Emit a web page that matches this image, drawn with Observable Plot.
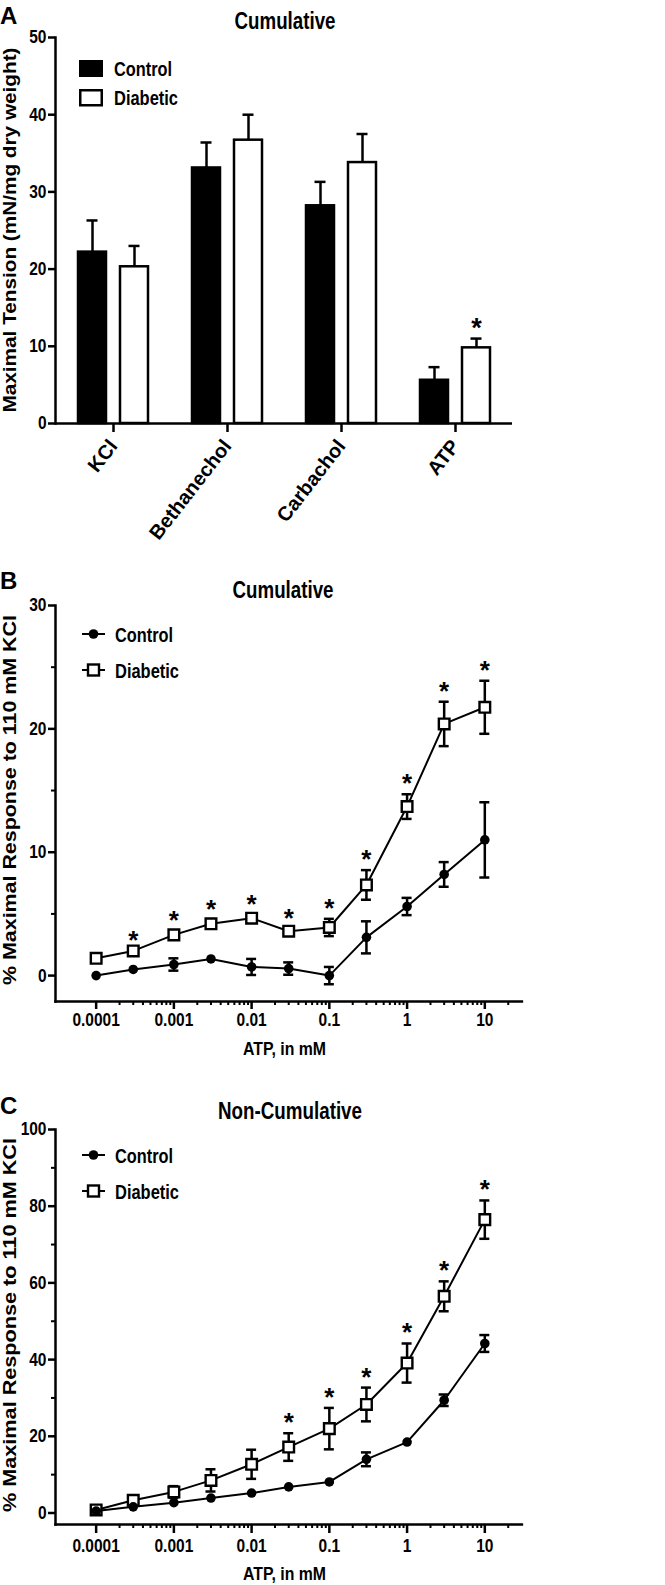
<!DOCTYPE html>
<html>
<head>
<meta charset="utf-8">
<script src="https://cdn.jsdelivr.net/npm/d3@7"></script>
<script src="https://cdn.jsdelivr.net/npm/@observablehq/plot@0.6"></script>
<style>
  html, body { margin: 0; padding: 0; background: #fff; }
  #wrap { position: relative; width: 665px; height: 1585px; overflow: hidden; }
  #wrap > svg { position: absolute; left: 0; }
</style>
</head>
<body>
<div id="wrap"></div>
<script>
const FONT = '"Liberation Sans", Arial, Helvetica, sans-serif';

// ---------- Panel A data ----------
const agonists = ["KCl", "Bethanechol", "Carbachol", "ATP"];
const tensionControl = [22.2, 33.1, 28.2, 5.6];
const tensionControlSem = [4.1, 3.3, 3.1, 1.7];
const tensionDiabetic = [20.3, 36.7, 33.8, 9.8];
const tensionDiabeticSem = [2.7, 3.3, 3.7, 1.2];
const tensionSig = [false, false, false, true];
const tensionTicks = [0, 10, 20, 30, 40, 50];

// ---------- Panel B / C shared ----------
const atpConc = [0.0001, 0.0003, 0.001, 0.003, 0.01, 0.03, 0.1, 0.3, 1, 3, 10];
const atpMajorTicks = [0.0001, 0.001, 0.01, 0.1, 1, 10];
const atpTickLabels = ["0.0001", "0.001", "0.01", "0.1", "1", "10"];
const atpMinorTicks = [-4, -3, -2, -1, 0, 1].flatMap(e => [2, 3, 4, 5, 6, 7, 8, 9].map(m => +(m * Math.pow(10, e)).toPrecision(3))).filter(v => v <= 20);

// ---------- Panel B data (cumulative) ----------
const cumControl = [0.0, 0.5, 0.9, 1.35, 0.7, 0.57, 0.0, 3.1, 5.6, 8.2, 11.0];
const cumControlSem = [0, 0, 0.5, 0, 0.65, 0.5, 0.7, 1.3, 0.7, 1.0, 3.05];
const cumDiabetic = [1.4, 2.0, 3.3, 4.2, 4.65, 3.6, 3.9, 7.35, 13.7, 20.4, 21.75];
const cumDiabeticSem = [0, 0, 0.3, 0.3, 0.3, 0.2, 0.7, 1.2, 1.0, 1.8, 2.15];
const cumSig = [false, true, true, true, true, true, true, true, true, true, true];
const cumMajor = [0, 10, 20, 30];
const cumMinor = [5, 15, 25];

// ---------- Panel C data (non-cumulative) ----------
const nonControl = [0.5, 1.6, 2.7, 3.9, 5.2, 6.8, 8.1, 14.0, 18.5, 29.4, 44.2];
const nonControlSem = [0, 0, 0, 0, 0, 0, 0, 1.8, 0, 1.5, 2.2];
const nonDiabetic = [0.8, 3.3, 5.5, 8.5, 12.7, 17.2, 22.0, 28.3, 39.1, 56.5, 76.5];
const nonDiabeticSem = [0, 0, 1.5, 2.9, 3.8, 3.6, 5.4, 4.4, 5.1, 3.9, 5.0];
const nonSig = [false, false, false, false, false, true, true, true, true, true, true];
const nonMajor = [0, 20, 40, 60, 80, 100];
const nonMinor = [10, 30, 50, 70, 90];

const wrap = document.getElementById("wrap");
const TICK_FONT = 15.5;
const baseStyle = { fontFamily: FONT, fontSize: TICK_FONT + "px", fontWeight: "bold", color: "black", background: "white", overflow: "visible" };

// the original figure's lettering is taller than it is wide: keep each tick label's width, grow its height
function stretchTickLabels(svg, selector) {
  d3.select(svg).selectAll(selector).each(function () {
    const w = this.getComputedTextLength();
    this.setAttribute("font-size", TICK_FONT * 1.2);
    this.setAttribute("textLength", w);
    this.setAttribute("lengthAdjust", "spacingAndGlyphs");
  });
}
function place(svg, top, selector = "g[aria-label$='tick label'] text") {
  svg.style.top = top + "px";
  wrap.appendChild(svg);
  stretchTickLabels(svg, selector);
}

// ================= Panel A =================
const rowsA = agonists.map((a, i) => ({
  agonist: a,
  control: tensionControl[i], controlHi: tensionControl[i] + tensionControlSem[i],
  diabetic: tensionDiabetic[i], diabeticHi: tensionDiabetic[i] + tensionDiabeticSem[i],
  sig: tensionSig[i]
}));
const dxC = -21, dxD = 21;
const plotA = Plot.plot({
  width: 665, height: 555,
  marginTop: 37, marginBottom: 132, marginLeft: 55, marginRight: 153,
  style: baseStyle,
  x: { type: "band", domain: agonists, padding: 0 },
  y: { domain: [0, 50] },
  marks: [
    Plot.ruleX(rowsA, { x: "agonist", y1: "control", y2: "controlHi", dx: dxC, strokeWidth: 2.5 }),
    Plot.tickY(rowsA, { x: "agonist", y: "controlHi", dx: dxC, insetLeft: 51.5, insetRight: 51.5, strokeWidth: 2.5 }),
    Plot.ruleX(rowsA, { x: "agonist", y1: "diabetic", y2: "diabeticHi", dx: dxD, strokeWidth: 2.5 }),
    Plot.tickY(rowsA, { x: "agonist", y: "diabeticHi", dx: dxD, insetLeft: 51.5, insetRight: 51.5, strokeWidth: 2.5 }),
    Plot.barY(rowsA, { x: "agonist", y: "control", dx: dxC, insetLeft: 43, insetRight: 43, fill: "black", stroke: "black", strokeWidth: 2.5 }),
    Plot.barY(rowsA, { x: "agonist", y: "diabetic", dx: dxD, insetLeft: 43, insetRight: 43, fill: "white", stroke: "black", strokeWidth: 2.5 }),
    Plot.text(rowsA.filter(d => d.sig), { x: "agonist", y: "diabeticHi", dx: dxD, text: () => "*", fontSize: 27, fontWeight: "bold", lineAnchor: "bottom", dy: -2 }),
    Plot.ruleY([0], { strokeWidth: 2.5 }),
    Plot.frame({ anchor: "left", strokeWidth: 2.5 }),
    Plot.axisY(tensionTicks, { tickSize: 7, tickPadding: 2, strokeWidth: 2.5, label: null }),
    Plot.axisX({ tickSize: 9, tickPadding: 10, tickRotate: -52, strokeWidth: 2.5, fontSize: 20, fontWeight: "bold", label: null })
  ]
});
place(plotA, 0, "g[aria-label='y-axis tick label'] text");

// ================= Panels B & C =================
function curvePanel(opts) {
  const rows = atpConc.map((c, i) => ({ conc: c, y: opts.control[i], lo: opts.control[i] - opts.controlSem[i], hi: opts.control[i] + opts.controlSem[i], sem: opts.controlSem[i], group: "Control" }));
  const rowsD = atpConc.map((c, i) => ({ conc: c, y: opts.diabetic[i], lo: opts.diabetic[i] - opts.diabeticSem[i], hi: opts.diabetic[i] + opts.diabeticSem[i], sem: opts.diabeticSem[i], sig: opts.sig[i], group: "Diabetic" }));
  const errC = rows.filter(d => d.sem > 0), errD = rowsD.filter(d => d.sem > 0);
  const capOpts = { insetLeft: -5, insetRight: -5, strokeWidth: 2.5 };
  return Plot.plot({
    width: 665, height: opts.height,
    marginTop: opts.marginTop, marginBottom: opts.marginBottom, marginLeft: 55, marginRight: 143.6,
    style: baseStyle,
    x: { type: "log", domain: [0.00003, 30] },
    y: { domain: opts.yDomain },
    marks: [
      Plot.line(rowsD, { x: "conc", y: "y", strokeWidth: 2 }),
      Plot.ruleX(errD, { x: "conc", y1: "lo", y2: "hi", strokeWidth: 2.5 }),
      Plot.ruleY(errD, { x1: "conc", x2: "conc", y: "hi", ...capOpts }),
      Plot.ruleY(errD, { x1: "conc", x2: "conc", y: "lo", ...capOpts }),
      Plot.dot(rowsD, { x: "conc", y: "y", symbol: "square", r: 6, fill: "white", stroke: "black", strokeWidth: 2.4 }),
      Plot.line(rows, { x: "conc", y: "y", strokeWidth: 2 }),
      Plot.ruleX(errC, { x: "conc", y1: "lo", y2: "hi", strokeWidth: 2.5 }),
      Plot.ruleY(errC, { x1: "conc", x2: "conc", y: "hi", ...capOpts }),
      Plot.ruleY(errC, { x1: "conc", x2: "conc", y: "lo", ...capOpts }),
      Plot.dot(rows, { x: "conc", y: "y", r: 4.8, fill: "black" }),
      Plot.text(rowsD.filter(d => d.sig), { x: "conc", y: "hi", text: () => "*", fontSize: 26, fontWeight: "bold", lineAnchor: "bottom", dy: -2 }),
      Plot.frame({ anchor: "left", strokeWidth: 2.5 }),
      Plot.frame({ anchor: "bottom", strokeWidth: 2.5 }),
      Plot.axisY(opts.yMajor, { tickSize: 7, tickPadding: 2, strokeWidth: 2.5, label: null }),
      Plot.axisY(opts.yMinor, { tickSize: 4, strokeWidth: 2, tickFormat: () => "", label: null }),
      Plot.axisX(atpMajorTicks, { tickSize: opts.xTick, tickPadding: opts.xPad, strokeWidth: 2.5, label: null, tickFormat: d => atpTickLabels[atpMajorTicks.indexOf(d)] }),
      Plot.axisX(atpMinorTicks, { tickSize: 4, strokeWidth: 2, tickFormat: () => "", label: null })
    ]
  });
}

const plotB = curvePanel({
  control: cumControl, controlSem: cumControlSem, diabetic: cumDiabetic, diabeticSem: cumDiabeticSem, sig: cumSig,
  yDomain: [-2.1, 30], yMajor: cumMajor, yMinor: cumMinor,
  height: 505, marginTop: 50, marginBottom: 59, xTick: 8, xPad: 3
});
place(plotB, 555);

const plotC = curvePanel({
  control: nonControl, controlSem: nonControlSem, diabetic: nonDiabetic, diabeticSem: nonDiabeticSem, sig: nonSig,
  yDomain: [-3, 100], yMajor: nonMajor, yMinor: nonMinor,
  height: 525, marginTop: 69, marginBottom: 61, xTick: 9, xPad: 5
});
place(plotC, 1060);

// ================= Overlay annotations =================
const ov = d3.select(wrap).append("svg")
  .attr("width", 665).attr("height", 1585)
  .style("top", "0px").style("pointer-events", "none")
  .attr("font-family", FONT).attr("font-weight", "bold").attr("fill", "black");

function txt(x, y, s, size, opt = {}) {
  const t = ov.append("text").attr("x", x).attr("y", y).attr("font-size", size).text(s)
    .attr("text-anchor", opt.anchor || "start");
  if (opt.length) t.attr("textLength", opt.length).attr("lengthAdjust", "spacingAndGlyphs");
  return t;
}
function vtxt(cx, cy, s, size, length) {
  ov.append("text").attr("transform", `translate(${cx},${cy}) rotate(-90)`)
    .attr("text-anchor", "middle").attr("font-size", size)
    .attr("textLength", length).attr("lengthAdjust", "spacingAndGlyphs").text(s);
}

// panel letters
txt(0, 24, "A", 24);
txt(0, 589, "B", 24);
txt(0, 1114, "C", 24);

// titles
txt(285, 29, "Cumulative", 23, { anchor: "middle", length: 101 });
txt(283, 598, "Cumulative", 23, { anchor: "middle", length: 101 });
txt(290, 1119, "Non-Cumulative", 23, { anchor: "middle", length: 144 });

// y labels
vtxt(16, 230, "Maximal Tension (mN/mg dry weight)", 18.5, 365);
vtxt(16, 800, "% Maximal Response to 110 mM KCl", 18.5, 370);
vtxt(16, 1325, "% Maximal Response to 110 mM KCl", 18.5, 374);

// x labels
txt(284.5, 1055, "ATP, in mM", 19, { anchor: "middle", length: 83 });
txt(284.5, 1580, "ATP, in mM", 19, { anchor: "middle", length: 83 });

// legend A
ov.append("rect").attr("x", 80.25).attr("y", 61.25).attr("width", 21.5).attr("height", 14.5).attr("fill", "black").attr("stroke", "black").attr("stroke-width", 2.5);
ov.append("rect").attr("x", 80.25).attr("y", 90.25).attr("width", 21.5).attr("height", 15).attr("fill", "white").attr("stroke", "black").attr("stroke-width", 2.5);
txt(114, 76, "Control", 20, { length: 58 });
txt(114, 105, "Diabetic", 20, { length: 64 });

// legends B & C
function curveLegend(yC, yD) {
  ov.append("line").attr("x1", 82).attr("x2", 105).attr("y1", yC).attr("y2", yC).attr("stroke", "black").attr("stroke-width", 2);
  ov.append("circle").attr("cx", 93.5).attr("cy", yC).attr("r", 4.8).attr("fill", "black");
  ov.append("line").attr("x1", 82).attr("x2", 105).attr("y1", yD).attr("y2", yD).attr("stroke", "black").attr("stroke-width", 2);
  ov.append("rect").attr("x", 88).attr("y", yD - 5.5).attr("width", 11).attr("height", 11).attr("fill", "white").attr("stroke", "black").attr("stroke-width", 2.4);
  txt(115, yC + 7.5, "Control", 20, { length: 58 });
  txt(115, yD + 7.5, "Diabetic", 20, { length: 64 });
}
curveLegend(634, 670);
curveLegend(1155, 1191);
</script>
</body>
</html>
